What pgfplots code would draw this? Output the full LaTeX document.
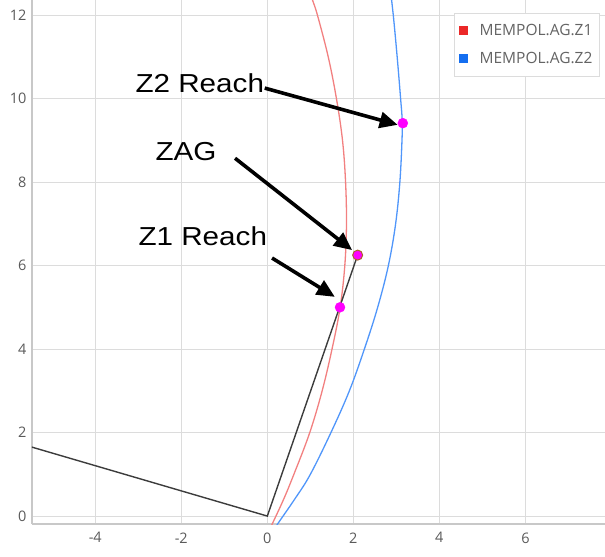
\documentclass[border=0pt]{standalone}
\usepackage{fontspec}
\usepackage{graphicx}
\usepackage{pgfplots}
\pgfplotsset{compat=1.18}
\usetikzlibrary{arrows.meta,calc}
\setmainfont{Open Sans}
\newfontfamily\annfont{Liberation Sans}
\definecolor{zred}{RGB}{242,128,128}
\definecolor{zblue}{RGB}{80,150,250}
\definecolor{legred}{RGB}{235,40,40}
\definecolor{legblue}{RGB}{20,110,240}
\definecolor{gridc}{RGB}{220,220,220}
\definecolor{axc}{RGB}{200,200,200}
\definecolor{tickc}{RGB}{90,90,90}
\definecolor{legtxt}{RGB}{100,100,100}
\definecolor{linec}{RGB}{60,60,60}
\definecolor{mag}{RGB}{255,0,255}
\definecolor{zagedge}{RGB}{170,100,40}
\begin{document}
\begin{tikzpicture}
\begin{axis}[
  name=ax,
  scale only axis,
  width=573pt, height=524pt,
  xmin=-5.47, xmax=7.85, ymin=-0.19, ymax=12.36,
  xtick={-4,-2,0,2,4,6}, ytick={0,2,4,6,8,10,12},
  axis x line*=bottom, axis y line*=left,
  axis line style={axc, line width=1.2pt, -},
  grid=major,
  grid style={gridc, line width=1pt},
  major tick length=0pt,
  /pgf/number format/assume math mode=true,
  tick label style={font=\fontsize{14.5}{16}\selectfont, text=tickc},
  xticklabel style={yshift=-5pt},
  yticklabel style={xshift=-2pt},
  legend style={at={(rel axis cs:0.7365,0.975)}, anchor=north west,
    draw=gridc, fill=white, font=\fontsize{15.5}{18}\selectfont, text=legtxt,
    inner xsep=5pt, inner ysep=9pt, row sep=11pt, cells={anchor=west},
    legend cell align=left},
]
\addlegendimage{legend image code/.code={\fill[legred] (0pt,-4pt) rectangle (8pt,4pt);}}
\addlegendentry{\hspace{10pt}MEMPOL.AG.Z1\hspace{20pt}}
\addlegendimage{legend image code/.code={\fill[legblue] (0pt,-4pt) rectangle (8pt,4pt);}}
\addlegendentry{\hspace{10pt}MEMPOL.AG.Z2\hspace{20pt}}

% Z1 characteristic (red)
\addplot[zred, line width=1.3pt, smooth, tension=0.6, forget plot] coordinates {
 (0.04,-0.35) (0.10,-0.22) (0.37,0.38) (0.61,0.98) (0.98,1.98) (1.27,2.98)
 (1.50,3.98) (1.69,4.98) (1.80,5.98) (1.84,6.98) (1.82,7.98)
 (1.75,8.98) (1.61,9.98) (1.42,10.98) (1.17,11.98) (1.05,12.36) (0.97,12.6)
};
% Z2 characteristic (blue)
\addplot[zblue, line width=1.3pt, smooth, tension=0.6, forget plot] coordinates {
 (0.16,-0.35) (0.22,-0.22) (0.62,0.38) (0.99,0.98) (1.47,1.98) (1.90,2.98)
 (2.25,3.98) (2.56,4.98) (2.81,5.98) (2.98,6.98) (3.08,7.98)
 (3.13,8.98) (3.135,9.48) (3.10,9.98) (3.02,10.98) (2.93,11.98) (2.86,12.6)
};
% impedance trajectory
\addplot[linec, line width=1.4pt, forget plot] coordinates {
 (-5.6,1.69) (0,0) (2.10,6.25)
};
% points
\addplot[only marks, mark=*, mark size=5pt, color=mag, forget plot] coordinates {
 (1.69,5.0) (3.15,9.41)
};
\addplot[only marks, mark=*, mark size=5pt, draw=zagedge, fill=mag, mark options={line width=1pt}, forget plot] coordinates {
 (2.10,6.25)
};
% annotations
\draw[line width=3.6pt, -{Triangle[length=18pt,width=16pt]}] (axis cs:-0.06,10.25) -- (axis cs:3.03,9.37);
\draw[line width=3.6pt, -{Triangle[length=18pt,width=16pt]}] (axis cs:-0.75,8.57) -- (axis cs:1.97,6.37);
\draw[line width=3.6pt, -{Triangle[length=18pt,width=16pt]}] (axis cs:0.11,6.18) -- (axis cs:1.57,5.25);
\node[font=\annfont\fontsize{26}{28}\selectfont, text=black] at (axis cs:-1.57,10.37) {\scalebox{1.14}[1]{Z2 Reach}};
\node[font=\annfont\fontsize{26}{28}\selectfont, text=black] at (axis cs:-1.89,8.72) {\scalebox{1.14}[1]{ZAG}};
\node[font=\annfont\fontsize{26}{28}\selectfont, text=black] at (axis cs:-1.50,6.71) {\scalebox{1.14}[1]{Z1 Reach}};
\end{axis}
\pgfresetboundingbox
\path[use as bounding box] ($(ax.south west)+(-32pt,-32pt)$) rectangle (ax.north east);
\end{tikzpicture}
\end{document}
